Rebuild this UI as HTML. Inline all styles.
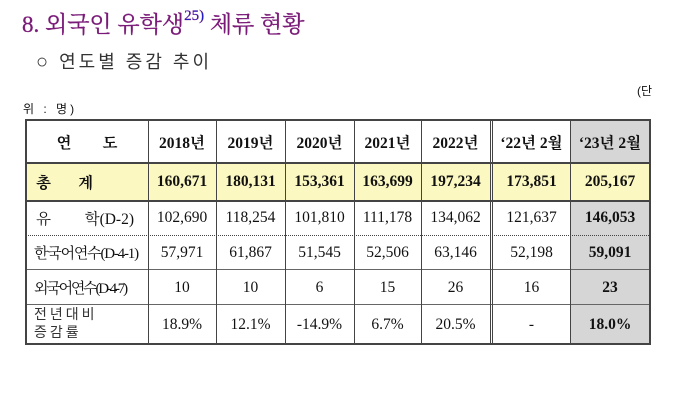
<!DOCTYPE html>
<html><head><meta charset="utf-8"><style>
body{margin:0;width:681px;height:400px;background:#fff;position:relative;overflow:hidden;font-family:"Liberation Serif","Noto Serif CJK SC",serif;color:#111}
.t{position:absolute;white-space:nowrap}
.c{position:absolute;display:flex;align-items:center;justify-content:center;font-size:15.5px;box-sizing:border-box}
.h{position:absolute;background:#444}
</style></head><body>
<div class="t" style="left:22px;top:6px;font-size:23px;color:#7a1a78;font-family:'Liberation Serif','Noto Serif CJK KR',serif;-webkit-text-stroke:0.3px #7a1a78">8. 외국인 유학생<sup style="font-size:15px;color:#1a1acc;position:relative;top:-3px">25)</sup> 체류 현황</div>
<div class="t" style="left:36px;top:48px;font-size:18px;color:#333;letter-spacing:3px;font-family:'Liberation Sans','Noto Sans CJK KR',sans-serif"><span style="font-size:20px">○</span> 연도별 증감 추이</div>
<div class="t" style="left:637px;top:82px;font-size:12px;font-family:'Liberation Sans','Noto Sans CJK KR',sans-serif">(단</div>
<div class="t" style="left:23px;top:100px;font-size:12px;letter-spacing:3px;font-family:'Liberation Sans','Noto Sans CJK KR',sans-serif">위 : 명)</div>

<div style="position:absolute;left:26px;top:163px;width:624px;height:38px;background:#fbf8c1"></div>
<div style="position:absolute;left:571px;top:120px;width:79px;height:43px;background:#d6d6d6"></div>
<div style="position:absolute;left:571px;top:201px;width:79px;height:143px;background:#d6d6d6"></div>

<div class="h" style="left:26px;top:119px;width:625px;height:2px"></div>
<div class="h" style="left:26px;top:162px;width:625px;height:2px"></div>
<div class="h" style="left:26px;top:200px;width:625px;height:2px"></div>
<div style="position:absolute;left:26px;top:235px;width:625px;border-top:1px dotted #444"></div>
<div class="h" style="left:26px;top:269px;width:625px;height:1px;background:#666"></div>
<div class="h" style="left:26px;top:304px;width:625px;height:1px;background:#666"></div>
<div class="h" style="left:26px;top:343px;width:625px;height:2px"></div>
<div class="h" style="left:25px;top:119px;width:2px;height:226px"></div>
<div class="h" style="left:148px;top:120px;width:1px;height:224px"></div>
<div class="h" style="left:216px;top:120px;width:1px;height:224px"></div>
<div class="h" style="left:285px;top:120px;width:1px;height:224px"></div>
<div class="h" style="left:354px;top:120px;width:1px;height:224px"></div>
<div class="h" style="left:421px;top:120px;width:1px;height:224px"></div>
<div class="h" style="left:490px;top:120px;width:1px;height:224px"></div>
<div class="h" style="left:492px;top:120px;width:1px;height:224px"></div>
<div class="h" style="left:570px;top:120px;width:1px;height:224px"></div>
<div class="h" style="left:649px;top:119px;width:2px;height:226px"></div>

<div class="c" style="left:26px;top:121px;width:122px;height:42px;font-weight:bold;font-family:'Liberation Serif','Noto Serif CJK KR',serif">연&nbsp;&nbsp;&nbsp;&nbsp;&nbsp;&nbsp;&nbsp;&nbsp;도</div>
<div class="c" style="left:148px;top:121px;width:68px;height:42px;font-weight:bold">2018년</div>
<div class="c" style="left:216px;top:121px;width:69px;height:42px;font-weight:bold">2019년</div>
<div class="c" style="left:285px;top:121px;width:69px;height:42px;font-weight:bold">2020년</div>
<div class="c" style="left:354px;top:121px;width:67px;height:42px;font-weight:bold">2021년</div>
<div class="c" style="left:421px;top:121px;width:69px;height:42px;font-weight:bold">2022년</div>
<div class="c" style="left:493px;top:121px;width:77px;height:42px;font-weight:bold">‘22년 2월</div>
<div class="c" style="left:571px;top:121px;width:78px;height:42px;font-weight:bold">‘23년 2월</div>

<div class="c" style="left:26px;top:163px;width:122px;height:38px;font-weight:bold;justify-content:flex-start;padding-left:10px;font-family:'Liberation Serif','Noto Serif CJK KR',serif">총&nbsp;&nbsp;&nbsp;&nbsp;&nbsp;&nbsp;&nbsp;계</div>
<div class="c" style="left:148px;top:163px;width:68px;height:38px;font-weight:bold">160,671</div>
<div class="c" style="left:216px;top:163px;width:69px;height:38px;font-weight:bold">180,131</div>
<div class="c" style="left:285px;top:163px;width:69px;height:38px;font-weight:bold">153,361</div>
<div class="c" style="left:354px;top:163px;width:67px;height:38px;font-weight:bold">163,699</div>
<div class="c" style="left:421px;top:163px;width:69px;height:38px;font-weight:bold">197,234</div>
<div class="c" style="left:493px;top:163px;width:77px;height:38px;font-weight:bold">173,851</div>
<div class="c" style="left:571px;top:163px;width:78px;height:38px;font-weight:bold">205,167</div>

<div class="c" style="left:26px;top:201px;width:122px;height:34px;justify-content:space-between;padding:0 14px 0 10px">유<span>학(D-2)</span></div>
<div class="c" style="left:148px;top:201px;width:68px;height:34px">102,690</div>
<div class="c" style="left:216px;top:201px;width:69px;height:34px">118,254</div>
<div class="c" style="left:285px;top:201px;width:69px;height:34px">101,810</div>
<div class="c" style="left:354px;top:201px;width:67px;height:34px">111,178</div>
<div class="c" style="left:421px;top:201px;width:69px;height:34px">134,062</div>
<div class="c" style="left:493px;top:201px;width:77px;height:34px">121,637</div>
<div class="c" style="left:571px;top:201px;width:78px;height:34px;font-weight:bold">146,053</div>

<div class="c" style="left:26px;top:235px;width:122px;height:35px;justify-content:flex-start;padding-left:8px;letter-spacing:-1.2px;font-size:15px">한국어연수(D-4-1)</div>
<div class="c" style="left:148px;top:235px;width:68px;height:35px">57,971</div>
<div class="c" style="left:216px;top:235px;width:69px;height:35px">61,867</div>
<div class="c" style="left:285px;top:235px;width:69px;height:35px">51,545</div>
<div class="c" style="left:354px;top:235px;width:67px;height:35px">52,506</div>
<div class="c" style="left:421px;top:235px;width:69px;height:35px">63,146</div>
<div class="c" style="left:493px;top:235px;width:77px;height:35px">52,198</div>
<div class="c" style="left:571px;top:235px;width:78px;height:35px;font-weight:bold">59,091</div>

<div class="c" style="left:26px;top:270px;width:122px;height:35px;justify-content:flex-start;padding-left:8px;letter-spacing:-2.2px;font-size:15px">외국어연수(D-4-7)</div>
<div class="c" style="left:148px;top:270px;width:68px;height:35px">10</div>
<div class="c" style="left:216px;top:270px;width:69px;height:35px">10</div>
<div class="c" style="left:285px;top:270px;width:69px;height:35px">6</div>
<div class="c" style="left:354px;top:270px;width:67px;height:35px">15</div>
<div class="c" style="left:421px;top:270px;width:69px;height:35px">26</div>
<div class="c" style="left:493px;top:270px;width:77px;height:35px">16</div>
<div class="c" style="left:571px;top:270px;width:78px;height:35px;font-weight:bold">23</div>

<div class="t" style="left:34px;top:305px;font-size:14px;line-height:18px;letter-spacing:3px;font-family:'Liberation Sans','Noto Sans CJK KR',sans-serif;color:#333">전년대비<br>증감률</div>
<div class="c" style="left:148px;top:305px;width:68px;height:39px">18.9%</div>
<div class="c" style="left:216px;top:305px;width:69px;height:39px">12.1%</div>
<div class="c" style="left:285px;top:305px;width:69px;height:39px">-14.9%</div>
<div class="c" style="left:354px;top:305px;width:67px;height:39px">6.7%</div>
<div class="c" style="left:421px;top:305px;width:69px;height:39px">20.5%</div>
<div class="c" style="left:493px;top:305px;width:77px;height:39px">-</div>
<div class="c" style="left:571px;top:305px;width:78px;height:39px;font-weight:bold">18.0%</div>
</body></html>
